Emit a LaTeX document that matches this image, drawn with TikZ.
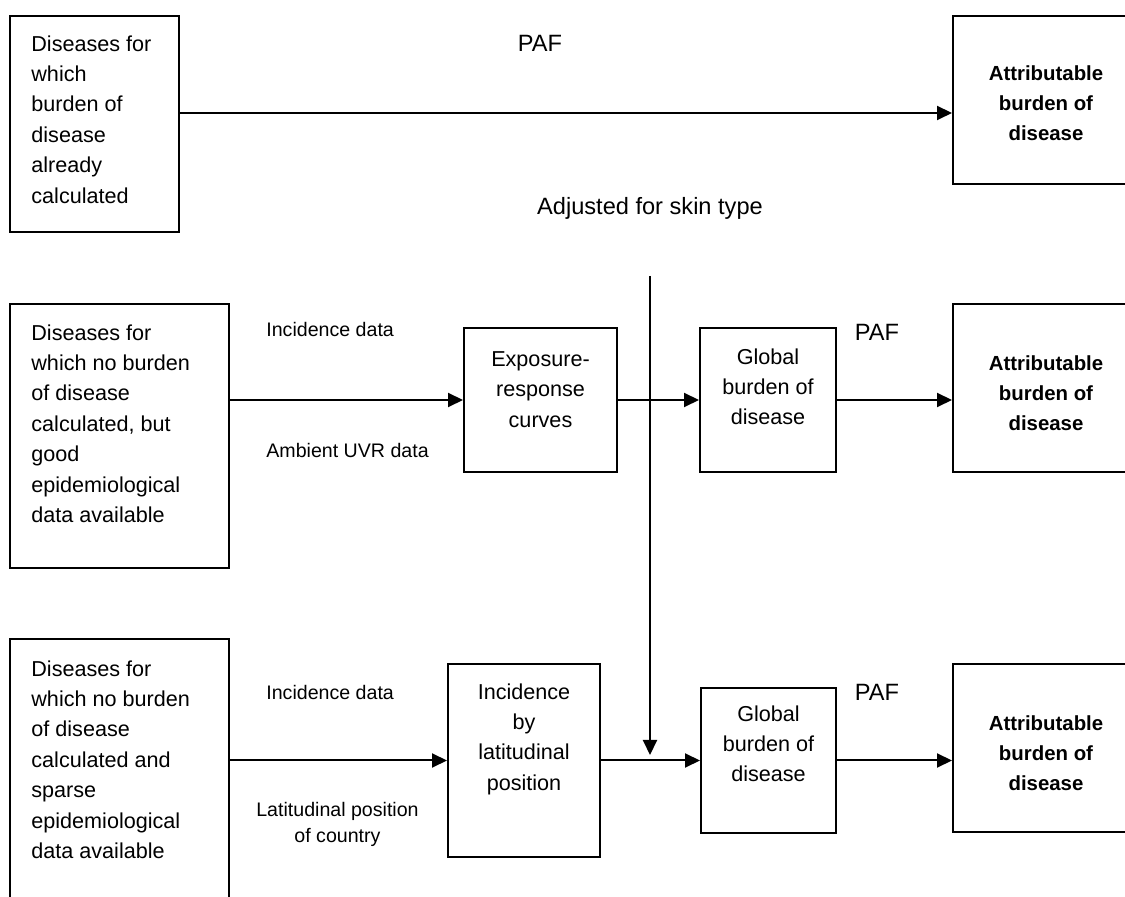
\documentclass[tikz,border=0pt]{standalone}
\usepackage{fontspec}
\setmainfont{Liberation Sans}
\usetikzlibrary{arrows.meta}

\begin{document}
\begin{tikzpicture}[x=0.5pt,y=0.5pt,yscale=-1,
  blk/.style={draw, line width=1pt, inner sep=0pt},
  txt/.style={inner sep=0pt, font=\fontsize{10.8}{15.2}\selectfont},
  btxt/.style={inner sep=0pt, align=center, font=\fontsize{10.2}{15.2}\selectfont\bfseries},
  lbl/.style={inner sep=0pt, font=\fontsize{9.8}{13}\selectfont},
  big/.style={inner sep=0pt, font=\fontsize{11.8}{14}\selectfont},
  arr/.style={line width=1pt, -{Triangle[length=7.5pt,width=7pt]}}]
\useasboundingbox (0,0) rectangle (1125,897);
\clip (0,0) rectangle (1125,897);

%Top row
\node [blk, minimum width=84.5pt, minimum height=108pt] (dis1) at (94.5,124) {};
\node [txt, anchor=north west, align=left] (dis1t) at (31,35) {Diseases for\\which\\burden of\\disease\\already\\calculated};
\node [blk, minimum width=93pt, minimum height=84pt] (att1) at (1046,100) {};
\node [btxt, anchor=north] (att1t) at (1046,65) {Attributable\\burden of\\disease};
\node [big] (paf1) at (540,43) {PAF};
\node [big] (skin) at (650,208) {Adjusted for skin type};
\coordinate (paf1start) at ([yshift=-5.5pt]dis1.east);
\draw [arr] (paf1start) -- (paf1start -| att1.west);

%Middle row
\node [blk, minimum width=109.5pt, minimum height=132pt] (dis2) at (119.5,436) {};
\node [txt, anchor=north west, align=left] (dis2t) at (31,324) {Diseases for\\which no burden\\of disease\\calculated, but\\good\\epidemiological\\data available};
\node [blk, minimum width=76.5pt, minimum height=72pt] (expo) at (540.5,400) {};
\node [txt, anchor=north, align=center] (expot) at (540.5,351) {Exposure-\\response\\curves};
\node [blk, minimum width=68pt, minimum height=72pt] (glob2) at (768,400) {};
\node [txt, anchor=north, align=center] (glob2t) at (768,348) {Global\\burden of\\disease};
\node [blk, minimum width=93pt, minimum height=84pt] (att2) at (1046,388) {};
\node [btxt, anchor=north] (att2t) at (1046,355) {Attributable\\burden of\\disease};
\node [lbl, anchor=west] (inc2) at (266,329) {Incidence data};
\node [lbl, anchor=west] (uvr) at (266,450) {Ambient UVR data};
\node [big] (paf2) at (877,332) {PAF};
\draw [arr] (dis2.east |- expo.west) -- (expo.west);
\draw [arr] (expo.east) -- (glob2.west);
\draw [arr] (glob2.east) -- (glob2.east -| att2.west);

%Bottom row
\node [blk, minimum width=109.5pt, minimum height=135.5pt] (dis3) at (119.5,774.5) {};
\node [txt, anchor=north west, align=left] (dis3t) at (31,660) {Diseases for\\which no burden\\of disease\\calculated and\\sparse\\epidemiological\\data available};
\node [blk, minimum width=76pt, minimum height=96.5pt] (lat) at (524,760.5) {};
\node [txt, anchor=north, align=center] (latt) at (524,683) {Incidence\\by\\latitudinal\\position};
\node [blk, minimum width=67.5pt, minimum height=72pt] (glob3) at (768.5,760.5) {};
\node [txt, anchor=north, align=center] (glob3t) at (768.5,705) {Global\\burden of\\disease};
\node [blk, minimum width=93pt, minimum height=84pt] (att3) at (1046,748) {};
\node [btxt, anchor=north] (att3t) at (1046,715) {Attributable\\burden of\\disease};
\node [lbl, anchor=west] (inc3) at (266,692) {Incidence data};
\node [lbl, align=center] (latpos) at (337.5,824) {Latitudinal position\\of country};
\node [big] (paf3) at (877,692) {PAF};
\draw [arr] (dis3.east |- lat.west) -- (lat.west);
\draw [arr] (lat.east) -- (glob3.west);
\draw [arr] (glob3.east) -- (glob3.east -| att3.west);

%Skin type adjustment
\coordinate (skintop) at (650,276);
\coordinate (skinend) at (650,755);
\draw [arr] (skintop) -- (skinend);

\end{tikzpicture}
\end{document}
